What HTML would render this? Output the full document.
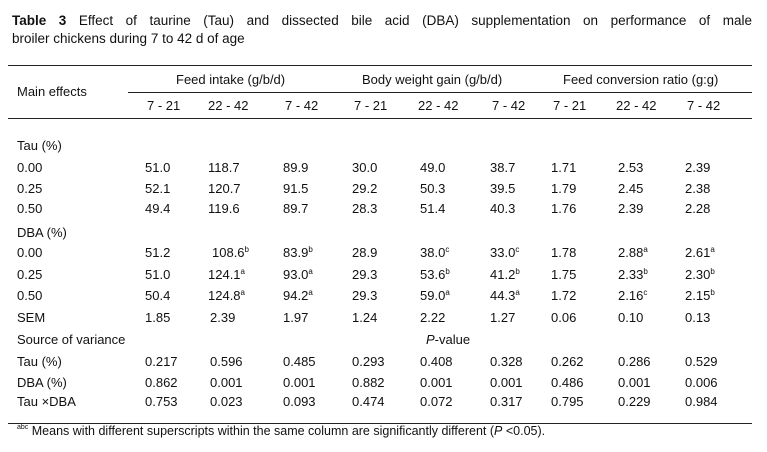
<!DOCTYPE html>
<html><head><meta charset="utf-8">
<style>
body{margin:0;background:#fff;}
#wrap{position:relative;width:767px;height:452px;overflow:hidden;font-family:"Liberation Sans",Arial,sans-serif;color:#111;font-size:13px;}
.t{position:absolute;white-space:nowrap;line-height:15px;}
.hl{position:absolute;height:1px;background:#222;}
sup{font-size:8px;vertical-align:5px;line-height:0;}
</style></head><body>
<div id="wrap">
<div class="t" style="left:12px;top:13px;width:740px;font-size:13.5px;text-align:justify;text-align-last:justify;"><b>Table 3</b> Effect of taurine (Tau) and dissected bile acid (DBA) supplementation on performance of male</div>
<div class="t" style="left:12px;top:31px;font-size:13.5px;">broiler chickens during 7 to 42 d of age</div>
<div class="hl" style="left:8px;top:65px;width:744px;"></div>
<div class="hl" style="left:128px;top:92px;width:624px;"></div>
<div class="hl" style="left:8px;top:118px;width:744px;"></div>
<div class="hl" style="left:8px;top:423px;width:744px;"></div>
<div class="t" style="left:17px;top:84px;">Main effects</div>
<div class="t" style="left:176px;top:72px;">Feed intake (g/b/d)</div>
<div class="t" style="left:362px;top:72px;">Body weight gain (g/b/d)</div>
<div class="t" style="left:563px;top:72px;">Feed conversion ratio (g:g)</div>
<div class="t" style="left:17px;top:424px;font-size:12.5px;"><sup style="font-size:7px;vertical-align:6px;">abc</sup> Means with different superscripts within the same column are significantly different (<i>P</i> &lt;0.05).</div>
</div>
<script>
var periods=["7 - 21","22 - 42","7 - 42","7 - 21","22 - 42","7 - 42","7 - 21","22 - 42","7 - 42"];
var colLeft=[145,210,283,352,420,490,551,618,685];
var rowLabels=["Tau (%)","0.00","0.25","0.50","DBA (%)","0.00","0.25","0.50","SEM","Source of variance","Tau (%)","DBA (%)","Tau \u00d7DBA"];
var rowTop=[138,160,181,201,225,245,267,288,310,332,354,375,394];
var values=[
null,
["51.0","118.7","89.9","30.0","49.0","38.7","1.71","2.53","2.39"],
["52.1","120.7","91.5","29.2","50.3","39.5","1.79","2.45","2.38"],
["49.4","119.6","89.7","28.3","51.4","40.3","1.76","2.39","2.28"],
null,
["51.2","108.6^b","83.9^b","28.9","38.0^c","33.0^c","1.78","2.88^a","2.61^a"],
["51.0","124.1^a","93.0^a","29.3","53.6^b","41.2^b","1.75","2.33^b","2.30^b"],
["50.4","124.8^a","94.2^a","29.3","59.0^a","44.3^a","1.72","2.16^c","2.15^b"],
["1.85","2.39","1.97","1.24","2.22","1.27","0.06","0.10","0.13"],
null,
["0.217","0.596","0.485","0.293","0.408","0.328","0.262","0.286","0.529"],
["0.862","0.001","0.001","0.882","0.001","0.001","0.486","0.001","0.006"],
["0.753","0.023","0.093","0.474","0.072","0.317","0.795","0.229","0.984"]
];
var wrap=document.getElementById('wrap');
for(var i=0;i<periods.length;i++){
  var h=document.createElement('div');h.className='t';
  h.style.left=(colLeft[i]+(periods[i].length>6?-2:2))+'px';h.style.top='98px';
  h.textContent=periods[i];
  
  
  wrap.appendChild(h);
}
for(var r=0;r<rowLabels.length;r++){
  var l=document.createElement('div');l.className='t';
  l.style.left='17px';l.style.top=rowTop[r]+'px';l.textContent=rowLabels[r];
  
  
  wrap.appendChild(l);
  var v=values[r];
  if(!v)continue;
  for(var c=0;c<v.length;c++){
    var d=document.createElement('div');d.className='t';
    var parts=v[c].split('^');
    var left=colLeft[c];
    if(parts[0].length>4&&parts[0].indexOf('0.')!==0)left-=2;
    if(parts[0].length>4&&parts[0].charAt(0)==='1'&&parts[0].charAt(1)==='0')left+=4;
    d.style.left=left+'px';d.style.top=rowTop[r]+'px';
    d.textContent=parts[0];
    if(parts[1]){var s=document.createElement('sup');s.textContent=parts[1];d.appendChild(s);}
    
    
    wrap.appendChild(d);
  }
}
var p=document.createElement('div');p.className='t';
p.style.left='426px';p.style.top='332px';p.innerHTML='<i>P</i>-value';


wrap.appendChild(p);
</script>
</body></html>
